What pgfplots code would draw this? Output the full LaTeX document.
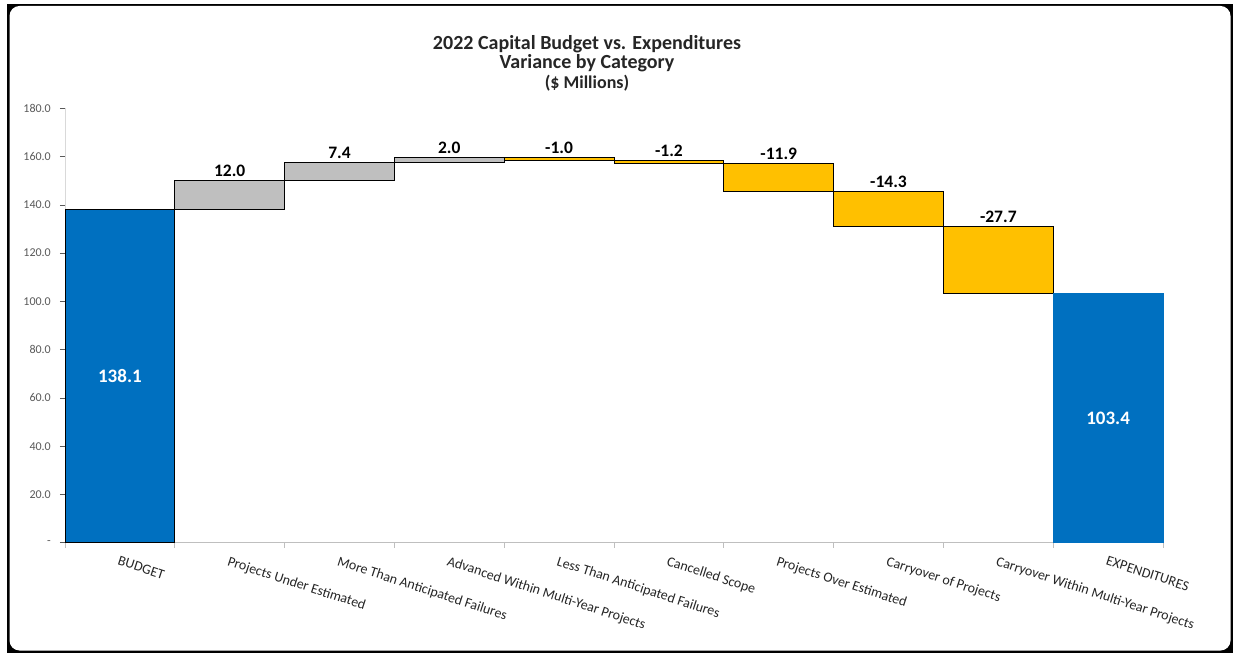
\documentclass[border=0pt]{standalone}
\usepackage{pgfplots}
\pgfplotsset{compat=1.18}
\usepackage{fontspec}
\setmainfont{Carlito}
\definecolor{xlblue}{HTML}{0070C0}
\definecolor{xlgray}{HTML}{BFBFBF}
\definecolor{xlgold}{HTML}{FFC000}
\definecolor{ticktext}{HTML}{595959}
\definecolor{axisgray}{HTML}{BFBFBF}
\definecolor{yaxisgray}{HTML}{D9D9D9}
\definecolor{labtext}{HTML}{262626}
\begin{document}
\begin{tikzpicture}
\fill[white] (0pt,0pt) rectangle (1233pt,653pt);
\fill[black] (7pt,0pt) rectangle (1233pt,649pt);
\fill[white,rounded corners=10pt] (9.5pt,2.5pt) rectangle (1230.5pt,647pt);
\node[anchor=base, inner sep=0pt, font=\bfseries\fontsize{20}{22}\selectfont, text=labtext] at (587pt,603pt) {2022 Capital Budget vs. Expenditures};
\node[anchor=base, inner sep=0pt, font=\bfseries\fontsize{20}{22}\selectfont, text=labtext] at (587pt,584pt) {Variance by Category};
\node[anchor=base, inner sep=0pt, font=\bfseries\fontsize{18}{20}\selectfont, text=labtext] at (587pt,564pt) {(\$ Millions)};
\begin{axis}[
  at={(65pt,110.3pt)}, anchor=south west,
  scale only axis, width=1098pt, height=434.4pt,
  xmin=-0.5, xmax=9.5, ymin=0, ymax=180,
  axis lines*=left,
  x axis line style={axisgray, line width=0.8pt},
  y axis line style={yaxisgray, line width=0.8pt},
  tick align=outside,
  major tick length=5pt, minor tick length=5pt,
  xtick={0,...,9},
  xticklabels={BUDGET, Projects Under Estimated, More Than Anticipated Failures, Advanced Within Multi-Year Projects, Less Than Anticipated Failures, Cancelled Scope, Projects Over Estimated, Carryover of Projects, Carryover Within Multi-Year Projects, EXPENDITURES},
  minor xtick={-0.5,0.5,...,9.5},
  major x tick style={draw=none},
  minor x tick style={axisgray, line width=0.8pt},
  ytick={0,20,...,180},
  yticklabels={{-\hspace{8pt}},20.0,40.0,60.0,80.0,100.0,120.0,140.0,160.0,180.0},
  ytick style={ticktext, line width=0.6pt},
  yticklabel style={font=\fontsize{12}{14}\selectfont, text=ticktext, inner sep=0pt},
  yticklabel shift=9pt,
  xticklabel style={font=\fontsize{14}{16}\selectfont, text=labtext, inner sep=0pt, anchor=north west, rotate=-18},
  xticklabel shift=8pt,
  clip=false,
]
% bars: each rectangle from its lower to its upper value
\addplot[fill=xlblue, draw=black, line width=0.9pt] coordinates {(-0.5,0) (0.5,0) (0.5,138.1) (-0.5,138.1)} -- cycle;
\addplot[fill=xlgray, draw=black, line width=0.9pt] coordinates {(0.5,138.1) (1.5,138.1) (1.5,150.1) (0.5,150.1)} -- cycle;
\addplot[fill=xlgray, draw=black, line width=0.9pt] coordinates {(1.5,150.1) (2.5,150.1) (2.5,157.5) (1.5,157.5)} -- cycle;
\addplot[fill=xlgray, draw=black, line width=0.9pt] coordinates {(2.5,157.5) (3.5,157.5) (3.5,159.5) (2.5,159.5)} -- cycle;
\addplot[fill=xlgold, draw=black, line width=0.9pt] coordinates {(3.5,158.5) (4.5,158.5) (4.5,159.5) (3.5,159.5)} -- cycle;
\addplot[fill=xlgold, draw=black, line width=0.9pt] coordinates {(4.5,157.3) (5.5,157.3) (5.5,158.5) (4.5,158.5)} -- cycle;
\addplot[fill=xlgold, draw=black, line width=0.9pt] coordinates {(5.5,145.4) (6.5,145.4) (6.5,157.3) (5.5,157.3)} -- cycle;
\addplot[fill=xlgold, draw=black, line width=0.9pt] coordinates {(6.5,131.1) (7.5,131.1) (7.5,145.4) (6.5,145.4)} -- cycle;
\addplot[fill=xlgold, draw=black, line width=0.9pt] coordinates {(7.5,103.4) (8.5,103.4) (8.5,131.1) (7.5,131.1)} -- cycle;
\addplot[fill=xlblue, draw=xlblue, line width=0.9pt] coordinates {(8.5,0) (9.5,0) (9.5,103.4) (8.5,103.4)} -- cycle;
% data labels above the variance bars
\addplot[draw=none, mark=none, nodes near coords, point meta=explicit symbolic,
  nodes near coords style={anchor=base, yshift=4pt, inner sep=0pt, font=\bfseries\fontsize{17.5}{20}\selectfont, text=black}]
  table[meta=label] {
x y label
1 150.1 12.0
2 157.5 7.4
3 159.5 2.0
4 159.5 -1.0
5 158.5 -1.2
6 157.3 -11.9
7 145.4 -14.3
8 131.1 -27.7
};
% totals inside the blue bars
\addplot[draw=none, mark=none, nodes near coords, point meta=explicit symbolic,
  nodes near coords style={anchor=center, inner sep=0pt, font=\bfseries\fontsize{19}{22}\selectfont, text=white}]
  table[meta=label] {
x y label
0 69.05 138.1
9 51.7 103.4
};
\end{axis}
\end{tikzpicture}
\end{document}
